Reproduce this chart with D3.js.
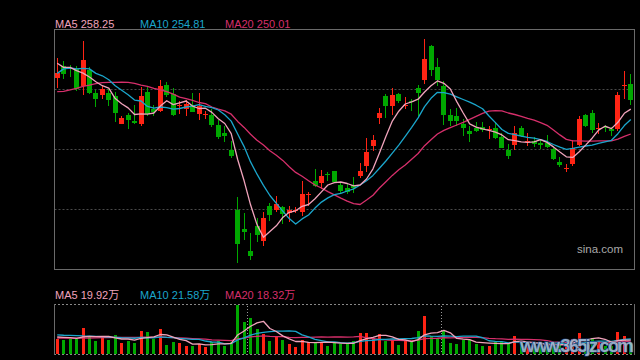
<!DOCTYPE html>
<html><head><meta charset="utf-8">
<script src="https://cdn.jsdelivr.net/npm/d3@7"></script>
<style>html,body{margin:0;padding:0;background:#000;}svg{display:block;}</style>
</head><body>
<svg id="c" width="640" height="360"></svg>
<script>
const opens = [268.8,272.6,272.0,271.7,266.1,271.4,263.7,263.1,263.7,262.8,253.3,256.3,254.3,253.3,263.9,258.3,257.8,266.3,263.2,259.2,258.3,259.7,256.7,256.5,256.3,253.0,250.3,244.7,224.7,218.3,211.0,219.2,214.1,225.9,224.8,225.6,223.7,224.4,224.1,229.7,234.3,233.7,236.6,237.7,233.0,231.9,233.0,235.8,239.1,246.1,255.3,262.6,259.4,263.2,259.6,260.9,265.2,268.0,279.4,272.4,266.1,256.4,255.9,253.3,251.0,252.1,252.4,251.6,252.0,249.1,244.8,246.1,252.0,247.6,247.6,247.0,247.0,245.0,240.8,238.5,240.0,246.3,256.3,257.0,251.8,252.4,251.7,251.7,266.3,266.7];
const highs = [275.2,274.2,273.0,272.6,280.9,272.2,264.7,266.1,265.0,263.9,255.9,257.0,259.7,265.6,266.1,259.8,268.0,267.4,265.2,261.1,261.3,263.6,263.6,257.8,258.3,254.8,252.6,247.8,228.9,223.6,217.0,221.9,224.1,227.0,229.2,226.1,226.1,225.6,234.2,230.6,238.3,238.0,237.4,237.7,233.9,233.3,235.6,240.3,248.7,249.7,258.6,263.3,265.2,263.7,262.2,261.7,266.3,281.7,279.8,275.3,267.8,258.3,258.7,255.0,252.8,253.9,253.9,252.8,253.9,250.3,246.7,252.6,252.6,250.3,248.9,248.3,249.7,245.3,242.2,240.0,248.0,256.1,256.7,258.0,253.7,253.1,252.4,264.1,271.1,270.0];
const lows = [265.4,268.3,268.9,264.4,263.1,263.3,259.1,261.7,259.2,253.9,253.3,251.7,253.3,252.8,255.9,256.1,257.2,262.2,255.9,256.7,255.9,257.2,254.7,255.0,252.2,248.3,247.4,241.9,206.9,214.7,208.0,213.9,212.8,221.1,223.9,220.0,220.6,223.6,222.8,226.1,232.4,231.7,234.4,233.7,230.0,230.0,230.2,235.3,237.4,244.4,253.3,255.4,256.3,260.3,258.3,257.8,255.9,266.7,269.2,266.1,253.1,252.6,252.8,249.2,247.4,250.6,250.8,248.3,248.3,245.2,241.7,244.8,248.9,246.1,245.6,245.0,245.4,241.3,239.1,237.4,239.4,245.9,252.2,250.3,250.0,250.6,249.2,251.1,261.7,259.7];
const closes = [270.3,269.8,271.7,265.0,274.7,263.8,261.8,265.0,261.4,257.2,255.3,254.7,253.8,262.7,256.7,257.2,266.0,263.0,256.3,259.6,260.0,257.4,259.2,256.6,253.0,249.1,249.4,242.6,213.3,217.4,209.4,216.1,221.9,222.8,226.8,223.3,224.7,224.6,230.0,229.9,232.8,236.1,236.2,233.9,230.9,230.6,232.0,237.6,243.9,248.0,257.0,259.4,263.0,260.8,259.8,260.7,263.7,275.0,271.3,268.0,256.3,254.4,254.1,252.0,250.0,251.1,251.3,251.8,248.8,245.6,242.8,250.2,249.4,247.8,246.7,246.3,245.8,241.7,239.7,238.7,245.2,255.0,252.8,251.4,252.0,251.9,250.9,263.1,266.5,261.3];
const ma5 = [273.6,272.2,272.2,271.1,270.3,269.0,267.4,266.1,265.3,261.8,260.1,258.7,256.5,256.7,256.6,257.0,259.3,261.1,259.8,260.4,261.0,259.3,258.5,258.6,257.2,255.1,253.5,250.1,241.5,234.4,226.4,219.8,215.6,217.5,219.4,222.2,223.9,224.4,225.9,226.5,228.4,230.7,233.0,233.8,234.0,233.5,232.7,233.0,235.0,238.4,243.7,249.2,254.3,257.6,260.0,260.7,261.6,264.0,266.1,267.7,266.9,265.0,260.8,257.0,253.4,252.3,251.7,251.2,250.6,249.7,248.1,247.8,247.4,247.2,247.4,248.1,247.2,245.7,244.0,242.4,242.2,244.1,246.3,248.6,251.3,252.6,251.8,253.9,256.9,258.3];
const ma10 = [270.2,271.7,272.0,271.7,271.9,271.7,270.2,269.4,268.1,266.1,264.6,263.1,261.3,261.0,259.2,258.6,259.0,258.8,258.3,258.5,259.0,259.3,259.8,259.2,258.8,258.0,256.4,254.3,250.0,245.8,240.7,236.6,232.9,229.5,226.9,224.3,221.8,220.0,221.7,223.0,225.3,227.3,228.7,229.8,230.2,231.0,231.7,233.0,234.4,236.2,238.6,241.0,243.6,246.3,249.2,252.2,255.4,259.1,261.9,263.9,263.8,263.3,262.4,261.5,260.6,259.6,258.4,256.0,253.8,251.5,250.2,249.8,249.3,248.9,248.6,248.1,247.5,246.5,245.6,244.9,245.2,245.6,246.0,246.3,246.9,247.4,247.9,250.1,252.8,254.8];
const ma20 = [264.1,264.2,264.7,265.2,265.9,266.3,266.8,267.1,267.2,267.2,267.3,267.2,266.9,266.3,265.9,265.2,264.7,264.1,263.3,262.3,261.8,261.2,260.5,260.1,259.0,258.3,257.7,256.6,254.2,252.2,249.9,247.9,246.3,244.4,242.9,241.2,239.1,237.2,235.9,234.4,233.0,232.0,230.8,229.7,228.6,227.6,226.8,226.5,228.0,229.6,232.0,234.1,236.2,238.1,239.7,241.6,243.5,246.1,248.1,250.0,251.2,252.1,253.0,253.9,254.9,255.9,256.9,257.6,257.8,257.7,257.0,256.5,255.9,255.2,254.6,253.8,252.9,251.3,249.7,248.2,247.7,247.7,247.6,247.6,247.7,247.7,247.7,248.3,249.2,250.0];
const volumes = [22.0,20.6,22.0,21.2,37.9,24.5,19.2,24.0,20.6,27.8,16.3,19.2,16.3,33.6,32.1,22.0,36.4,13.4,17.7,16.3,12.0,12.0,14.8,10.5,17.7,18.7,12.0,17.7,71.0,46.5,52.3,36.4,29.2,19.2,24.9,20.6,14.8,10.5,20.6,17.7,17.7,17.7,12.0,16.3,14.8,15.1,19.2,30.7,30.7,23.5,29.2,19.2,20.6,13.4,19.2,16.8,33.6,55.2,25.5,22.6,32.7,16.3,14.8,20.6,19.7,14.8,12.0,12.0,17.7,17.7,14.8,26.4,15.8,13.0,11.5,11.5,13.0,17.3,13.0,13.4,21.6,30.7,21.6,23.0,18.4,12.2,10.9,32.1,26.4,17.3];
const vma5 = [24.5,24.0,23.5,22.5,24.7,25.2,25.0,25.4,25.2,23.2,21.6,21.6,20.0,22.6,23.5,24.6,28.1,27.5,24.3,21.2,19.2,14.3,14.6,13.1,13.4,14.7,14.7,15.3,27.4,33.2,39.9,44.8,47.1,36.7,32.4,26.1,21.7,18.0,18.3,16.8,16.3,16.8,17.1,16.3,15.7,15.2,15.5,19.2,22.1,23.8,26.7,26.7,24.6,21.2,20.3,17.8,20.7,27.6,30.1,30.7,33.9,30.5,22.4,21.4,20.8,17.2,16.4,15.8,15.2,14.8,14.8,17.7,18.5,17.5,16.3,15.6,13.0,13.3,13.3,13.6,15.7,19.2,20.1,22.1,23.1,21.2,17.2,19.3,20.0,19.9];
const vma10 = [27.5,27.0,26.8,26.5,26.0,25.8,25.5,25.0,24.5,24.0,23.4,23.3,22.7,23.9,23.4,23.1,24.8,23.8,23.5,22.3,21.9,21.2,21.0,18.7,17.3,17.0,14.5,14.9,20.3,23.3,27.3,29.8,31.2,32.1,32.8,33.0,33.3,32.5,27.5,24.6,21.2,19.3,17.6,17.3,16.3,15.7,16.2,18.2,19.2,19.8,20.9,21.1,21.9,21.6,22.1,22.3,23.7,26.1,25.6,25.5,25.9,25.6,25.0,25.7,25.8,25.6,23.4,19.1,18.3,17.8,16.0,17.1,17.2,16.4,15.6,15.2,15.3,15.9,15.4,15.0,15.7,16.1,16.7,17.7,18.4,18.4,18.2,19.7,21.0,21.6];
const vma20 = [23.0,23.0,23.0,23.0,23.0,23.0,23.3,23.5,23.6,23.8,24.0,24.0,23.8,24.0,24.2,24.0,24.3,23.9,23.6,23.2,22.7,22.2,21.9,21.3,20.3,20.0,19.7,19.4,21.9,22.8,24.6,25.5,26.1,25.4,25.0,25.0,23.9,23.7,23.9,24.0,24.2,24.5,24.4,24.7,24.5,24.4,24.7,25.4,23.3,22.2,21.0,20.2,19.8,19.5,19.2,19.0,19.9,22.2,22.4,22.7,23.4,23.3,23.5,23.7,23.9,23.9,23.6,22.6,22.0,21.7,21.0,21.3,21.1,21.1,20.7,20.4,19.4,17.5,16.9,16.4,15.8,16.6,16.9,17.0,17.0,16.8,16.8,17.8,18.2,18.3];
const priceGrid = [225, 245, 265];
const monthStarts = [30, 60];
const priceLabels = [["MA5 258.25", "ma5"], ["MA10 254.81", "ma10"], ["MA20 250.01", "ma20"]];
const volLabels = [["MA5 19.92万", "ma5"], ["MA10 21.58万", "ma10"], ["MA20 18.32万", "ma20"]];

const COL = {ma5: "#f0a3bb", ma10: "#1ba6cc", ma20: "#d62f6b", up: "#ff2414", down: "#00a800"};
const FONT = '"Liberation Sans", Arial, "Noto Sans CJK SC", sans-serif';

const svg = d3.select("#c");
svg.append("rect").attr("width", 640).attr("height", 360).attr("fill", "#000");

const L = 54, R = 634, T = 29, B = 269;
const n = closes.length;
const x = d3.scaleBand().domain(d3.range(n)).range([L, R]);
const cx = i => x(i) + x.bandwidth() / 2;
const col = i => Math.floor(cx(i));
const y = d3.scaleLinear().domain([205, 285]).range([B, T]);

// grid lines via axis
const gridAxis = d3.axisLeft(y).tickValues(priceGrid).tickSize(-(R - L - 1)).tickFormat("");
const gg = svg.append("g").attr("transform", `translate(${L + 0.5},0.5)`).call(gridAxis);
gg.select(".domain").remove();
gg.selectAll(".tick line").attr("stroke", "#4a4a4a").attr("stroke-dasharray", "2,2").attr("stroke-width", 1.2);
gg.selectAll(".tick").attr("transform", d => `translate(0,${Math.round(y(d))})`);

// main frame
svg.append("rect").attr("x", L + 0.5).attr("y", T + 0.5).attr("width", R - L).attr("height", B - T)
  .attr("fill", "none").attr("stroke", "#6a6a6a").attr("stroke-width", 1);

// sina watermark
svg.append("text").attr("x", 623).attr("y", 253).attr("text-anchor", "end")
  .attr("font-family", FONT).attr("font-size", 11.5).attr("fill", "#a8a8a8").text("sina.com");

// candles
const idx = d3.range(n);
const up = i => closes[i] >= opens[i];
const cg = svg.append("g");
cg.selectAll("line.wick").data(idx).join("line")
  .attr("x1", i => col(i) + 0.5).attr("x2", i => col(i) + 0.5)
  .attr("y1", i => Math.round(y(highs[i]))).attr("y2", i => Math.round(y(lows[i])))
  .attr("stroke", i => up(i) ? COL.up : COL.down).attr("stroke-width", 1);
cg.selectAll("rect.body").data(idx).join("rect")
  .attr("x", i => col(i) - 2).attr("width", 5)
  .attr("y", i => Math.round(Math.min(y(opens[i]), y(closes[i]))))
  .attr("height", i => Math.max(1, Math.round(Math.abs(y(opens[i]) - y(closes[i])))))
  .attr("fill", i => up(i) ? COL.up : COL.down);

// MA lines
const mkLine = (arr, ys) => d3.line().x((d, i) => cx(i)).y(d => ys(d))(arr);
[[ma20, "ma20"], [ma10, "ma10"], [ma5, "ma5"]].forEach(([arr, k]) => {
  svg.append("path").attr("d", mkLine(arr, y)).attr("fill", "none")
    .attr("stroke", COL[k]).attr("stroke-width", 1.3).attr("stroke-linejoin", "round");
});

// labels
const labX = [55, 140, 225];
priceLabels.forEach(([t, k], j) => {
  svg.append("text").attr("x", labX[j]).attr("y", 28).attr("font-family", FONT)
    .attr("font-size", 11).attr("fill", COL[k]).text(t);
});
volLabels.forEach(([t, k], j) => {
  svg.append("text").attr("x", labX[j]).attr("y", 299).attr("font-family", FONT)
    .attr("font-size", 11).attr("fill", COL[k]).text(t);
});

// volume panel
const VT = 304, VB = 354;
const yv = d3.scaleLinear().domain([0, 72]).range([VB, VT]);
const vp = svg.append("g");
vp.append("line").attr("x1", L).attr("x2", R + 1).attr("y1", VT + 0.5).attr("y2", VT + 0.5)
  .attr("stroke", "#888").attr("stroke-dasharray", "2,2");
vp.append("line").attr("x1", L).attr("x2", R + 1).attr("y1", VB + 0.5).attr("y2", VB + 0.5)
  .attr("stroke", "#888").attr("stroke-dasharray", "2,2");
vp.append("line").attr("x1", L + 0.5).attr("x2", L + 0.5).attr("y1", VT).attr("y2", VB + 1).attr("stroke", "#6a6a6a");
vp.append("line").attr("x1", R + 0.5).attr("x2", R + 0.5).attr("y1", VT).attr("y2", VB + 1).attr("stroke", "#6a6a6a");
vp.selectAll("line.sep").data(monthStarts).join("line")
  .attr("x1", i => Math.round(x(i)) + 0.5).attr("x2", i => Math.round(x(i)) + 0.5)
  .attr("y1", VT + 2).attr("y2", VB).attr("stroke", "#999").attr("stroke-dasharray", "1,2");

vp.selectAll("rect.vol").data(idx).join("rect")
  .attr("x", i => col(i) - 1).attr("width", 3)
  .attr("y", i => Math.round(yv(volumes[i])))
  .attr("height", i => VB - Math.round(yv(volumes[i])))
  .attr("fill", i => up(i) ? COL.up : COL.down);

[[vma20, "ma20"], [vma10, "ma10"], [vma5, "ma5"]].forEach(([arr, k]) => {
  vp.append("path").attr("d", mkLine(arr, yv)).attr("fill", "none")
    .attr("stroke", COL[k]).attr("stroke-width", 1.3).attr("stroke-linejoin", "round");
});

// host watermark
svg.append("text").attr("x", 520).attr("y", 352).attr("font-family", FONT)
  .attr("font-size", 19).attr("font-weight", "bold").attr("textLength", 114)
  .attr("fill", "#a9c3df").attr("fill-opacity", 0.85).attr("stroke", "#1d3766").attr("stroke-width", 1.2)
  .attr("paint-order", "stroke").text("www.365jz.com");
</script>
</body></html>
